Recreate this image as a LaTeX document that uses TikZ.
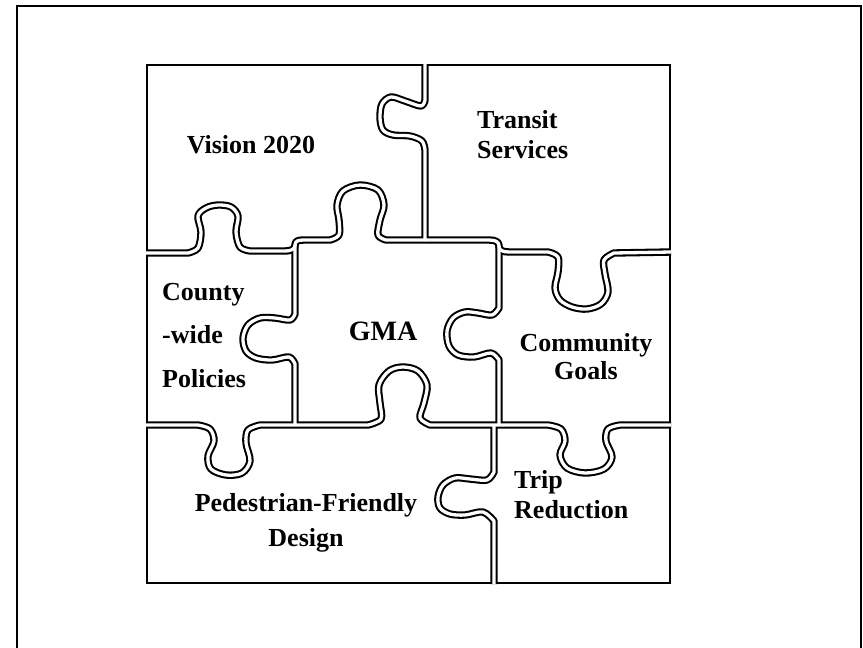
\documentclass[tikz,border=0pt]{standalone}
\usepackage{fontspec}
\setmainfont{Liberation Serif}
\begin{document}
\begin{tikzpicture}[x=1pt,y=-1pt,
  lbl/.style={font=\fontsize{26}{30}\selectfont\bfseries, inner sep=0pt},
  seamblack/.style={line width=7.4pt, black, line cap=butt, line join=round},
  seamwhite/.style={line width=3.3pt, white, line cap=butt, line join=round},
  border/.style={line width=2.1pt, black}]
\useasboundingbox (0,0) rectangle (863,648);
% image frame
\draw[line width=2.2pt] (17,650) -- (17,6) -- (861,6) -- (861,650);
% puzzle border
\draw[border] (147,65) rectangle (670,583);
% seams
\def\seamVone{(425,64) -- (425,100) -- plot[smooth,tension=0.55] coordinates {(425,100) (421,106) (405,101) (391,97) (382,104) (380,118) (383,130) (393,135) (410,136) (422,141) (425,150)} -- (425,241)}
\def\seamHone{(146,253) -- (188,253) -- plot[smooth,tension=0.55] coordinates {(188,253) (198,248) (201,232) (198,216) (206,208) (218,205) (231,207) (238,216) (236,232) (240,247) (250,251)} -- (284,251) .. controls (292,251) and (295,249) .. (295,245) .. controls (295,241) and (298,240) .. (304,240) -- (330,240) -- plot[smooth,tension=0.55] coordinates {(330,240) (339,235) (339,220) (337,205) (343,191) (360,185) (378,190) (384,205) (380,220) (378,235) (386,240)} -- (489,240) .. controls (496,240) and (499,242) .. (499,246) .. controls (499,250) and (502,252) .. (509,252) -- (548,252) -- plot[smooth,tension=0.55] coordinates {(548,252) (558,257) (558,272) (555,288) (560,300) (572,307) (587,309) (601,304) (608,292) (605,274) (604,260) (614,253)} -- (671,252)}
\def\seamVtwo{(295,245) -- (295,314) -- plot[smooth,tension=0.55] coordinates {(295,314) (290,320) (275,318) (260,318) (248,325) (243,338) (246,351) (256,358) (272,360) (289,357) (295,364)} -- (295,425)}
\def\seamVthree{(499,246) -- (499,308) -- plot[smooth,tension=0.55] coordinates {(499,308) (492,315) (478,313) (465,312) (453,318) (447,331) (449,346) (458,355) (474,357) (491,353) (499,360)} -- (499,425)}
\def\seamHtwo{(146,425) -- (198,425) -- plot[smooth,tension=0.55] coordinates {(198,425) (210,429) (214,441) (208,456) (211,469) (226,475) (242,473) (250,461) (246,443) (248,430) (260,425)} -- (368,425) -- plot[smooth,tension=0.55] coordinates {(368,425) (381,419) (380,403) (379,385) (389,371) (403,367) (418,371) (427,385) (424,403) (420,418) (430,425)} -- (548,425) -- plot[smooth,tension=0.55] coordinates {(548,425) (561,429) (565,441) (560,455) (567,468) (585,473) (604,469) (612,457) (606,441) (608,429) (620,425)} -- (671,425)}
\def\seamVfour{(494,425) -- (494,472) -- plot[smooth,tension=0.55] coordinates {(494,472) (487,480) (470,479) (455,478) (443,485) (438,497) (440,508) (450,514) (465,515) (483,512) (494,521)} -- (494,584)}
\foreach \s in {\seamVone,\seamHone,\seamVtwo,\seamVthree,\seamHtwo,\seamVfour}{\draw[seamblack] \s;}
\foreach \s in {\seamVone,\seamHone,\seamVtwo,\seamVthree,\seamHtwo,\seamVfour}{\draw[seamwhite] \s;}
% labels
\node[lbl, anchor=base] (vision) at (251,153) {Vision 2020};
\node[lbl, anchor=north west, align=left] (transit) at (477,110) {Transit\\Services};
\node[lbl, anchor=north west, align=left, font=\fontsize{26}{43.5}\selectfont\bfseries] (county) at (162,283) {County\\-wide\\Policies};
\node[lbl, anchor=base, font=\fontsize{28}{30}\selectfont\bfseries] (gma) at (383,340) {GMA};
\node[lbl, anchor=north, align=center, font=\fontsize{26}{28}\selectfont\bfseries] (community) at (586,333) {Community\\Goals};
\node[lbl, anchor=north, align=center, font=\fontsize{26}{35}\selectfont\bfseries] (ped) at (306,493) {Pedestrian-Friendly\\Design};
\node[lbl, anchor=north west, align=left] (trip) at (514,470) {Trip\\Reduction};
\end{tikzpicture}
\end{document}
